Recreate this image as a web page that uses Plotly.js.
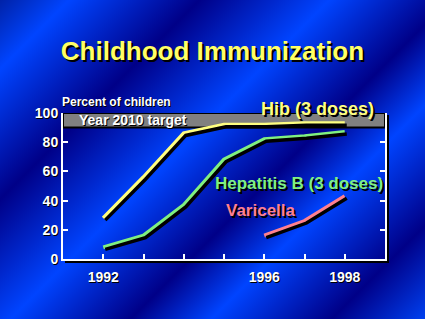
<!DOCTYPE html>
<html>
<head>
<meta charset="utf-8">
<script src="https://cdn.plot.ly/plotly-3.0.1.min.js"></script>
<style>
html, body { margin: 0; padding: 0; width: 425px; height: 319px; overflow: hidden; }
body {
  background: linear-gradient(135deg,
    #0022a8 0px, #0044ff 49px, #000088 141px, #0044ff 233px,
    #000088 318px, #0044ff 375px, #000088 460px, #0040f0 526px);
}
#chart { width: 425px; height: 319px; }
</style>
</head>
<body>
<div id="chart"></div>
<script>
// ---- data ----
const years = [1992, 1993, 1994, 1995, 1996, 1997, 1998];
const hib = [28, 56, 86, 92, 92, 93, 93];
const hepB = [8, 16, 37, 68, 82, 84, 87];
const varYears = [1996, 1997, 1998];
const varicella = [16, 26, 43];
const tickYears = [1992, 1993, 1994, 1995, 1996, 1997, 1998];
const tickLabels = ['1992', '', '', '', '1996', '', '1998'];
const yTicks = [0, 20, 40, 60, 80, 100];
const target = [90, 100];

const FONT = 'Liberation Sans, Arial, sans-serif';
const W = 324, H = 148, SH = 2; // plot size in px and shadow offset
const dx = SH / W, dy = SH / H;

function series(x, y, color, shadow) {
  return {
    x: x, y: y, type: 'scatter', mode: 'lines',
    xaxis: shadow ? 'x2' : 'x', yaxis: shadow ? 'y2' : 'y',
    line: { color: shadow ? '#000000' : color, width: shadow ? 3.5 : 4 },
    hoverinfo: 'skip', showlegend: false
  };
}

const data = [
  series(years, hib, null, true),
  series(years, hepB, null, true),
  series(varYears, varicella, null, true),
  series(years, hib, '#ffff80', false),
  series(years, hepB, '#80f080', false),
  series(varYears, varicella, '#ff8090', false)
];

const tickFont = { family: FONT, size: 14, color: '#ffffff', weight: 'bold', shadow: '1px 1px 0px #000' };

const layout = {
  width: 425, height: 319,
  margin: { l: 63, r: 38, t: 113, b: 58 },
  paper_bgcolor: 'rgba(0,0,0,0)',
  plot_bgcolor: 'rgba(0,0,0,0)',
  showlegend: false,
  title: {
    text: '<b>Childhood Immunization</b>',
    font: { family: FONT, size: 26, color: '#ffff66', shadow: '2px 2px 0px #000' },
    x: 0.5, xref: 'container', xanchor: 'center',
    y: 1 - 51 / 319, yref: 'container', yanchor: 'middle'
  },
  xaxis: {
    domain: [0, 1 - dx], range: [1991, 1999],
    showgrid: false, zeroline: false,
    showline: true, linecolor: '#ffffff', linewidth: 2,
    ticks: 'inside', ticklen: 5, tickwidth: 2, tickcolor: '#ffffff',
    tickmode: 'array', tickvals: tickYears, ticktext: tickLabels,
    ticklabelstandoff: 4,
    tickfont: tickFont, fixedrange: true
  },
  yaxis: {
    domain: [dy, 1], range: [0, 100],
    showgrid: false, zeroline: false,
    showline: true, linecolor: '#ffffff', linewidth: 2, mirror: 'ticks',
    ticks: 'inside', ticklen: 5, tickwidth: 2, tickcolor: '#ffffff',
    tickmode: 'array', tickvals: yTicks, ticktext: yTicks.map(String),
    tickfont: tickFont, fixedrange: true
  },
  xaxis2: {
    domain: [dx, 1], range: [1991, 1999], anchor: 'y2',
    showgrid: false, zeroline: false, showticklabels: false,
    showline: true, linecolor: '#000000', linewidth: 2, fixedrange: true
  },
  yaxis2: {
    domain: [0, 1 - dy], range: [0, 100], anchor: 'x2',
    showgrid: false, zeroline: false, showticklabels: false,
    showline: true, linecolor: '#000000', linewidth: 2, fixedrange: true, side: 'right'
  },
  shapes: [{
    type: 'rect', xref: 'x domain', yref: 'y',
    x0: 0, x1: 1, y0: target[0], y1: target[1],
    fillcolor: '#808080', line: { color: '#000000', width: 2 }, layer: 'below'
  }],
  annotations: [
    { text: '<b>Percent of children</b>', xref: 'paper', yref: 'paper', x: 0, y: 1,
      xanchor: 'left', yanchor: 'bottom', xshift: -3, yshift: 2, showarrow: false,
      font: { family: FONT, size: 12, color: '#ffffff', shadow: '1px 1px 0px #000' } },
    { text: '<b>Year 2010 target</b>', xref: 'x', yref: 'y', x: 1992.73, y: 95,
      xanchor: 'center', yanchor: 'middle', showarrow: false,
      font: { family: FONT, size: 14, color: '#ffffff', shadow: '1px 1px 0px #000' } },
    { text: '<b>Hib (3 doses)</b>', xref: 'paper', yref: 'paper', x: 0.784, y: 1.027,
      xanchor: 'center', yanchor: 'middle', showarrow: false,
      font: { family: FONT, size: 18, color: '#ffff80', shadow: '2px 2px 0px #000' } },
    { text: '<b>Hepatitis B (3 doses)</b>', xref: 'x', yref: 'y', x: 1996.86, y: 52,
      xanchor: 'center', yanchor: 'middle', showarrow: false,
      font: { family: FONT, size: 17, color: '#80f080', shadow: '2px 2px 0px #000' } },
    { text: '<b>Varicella</b>', xref: 'x', yref: 'y', x: 1995.93, y: 33,
      xanchor: 'center', yanchor: 'middle', showarrow: false,
      font: { family: FONT, size: 17, color: '#ff8090', shadow: '2px 2px 0px #000' } }
  ]
};

Plotly.newPlot('chart', data, layout, { displayModeBar: false, staticPlot: true });
</script>
</body>
</html>
